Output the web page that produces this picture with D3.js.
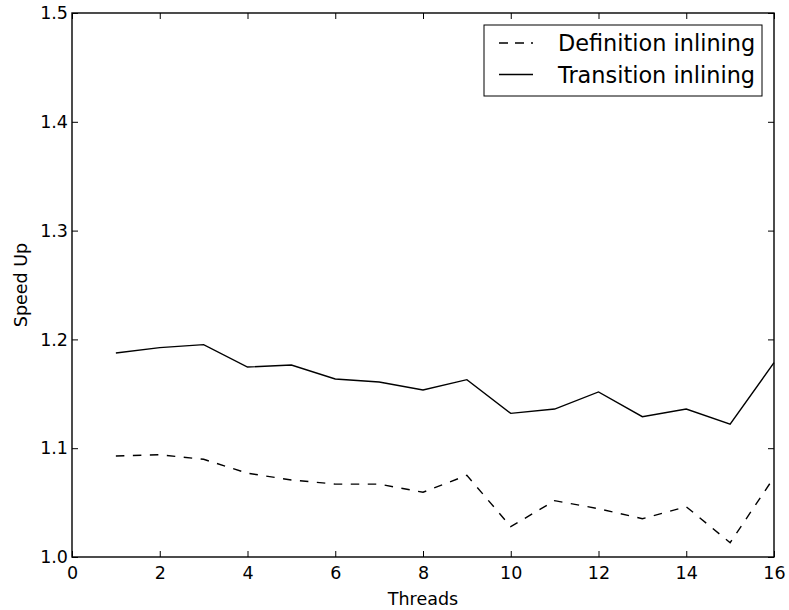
<!DOCTYPE html>
<html>
<head>
<meta charset="utf-8">
<script src="https://cdn.jsdelivr.net/npm/d3@7"></script>
<style>
  body { margin: 0; background: #fff; }
  svg { display: block; font-family: "DejaVu Sans", sans-serif; }
</style>
</head>
<body>
<svg id="chart" width="789" height="610"></svg>
<script>
// data
const threads = [1, 2, 3, 4, 5, 6, 7, 8, 9, 10, 11, 12, 13, 14, 15, 16]
const definitionInlining = [1.0928, 1.094, 1.0898, 1.077, 1.0708, 1.067, 1.067, 1.0595, 1.0751, 1.0279, 1.0518, 1.0444, 1.0352, 1.0462, 1.0131, 1.0732]
const transitionInlining = [1.1875, 1.1924, 1.1952, 1.1746, 1.1765, 1.1636, 1.1608, 1.1535, 1.163, 1.132, 1.136, 1.1517, 1.129, 1.136, 1.122, 1.1786]
const xTicks = [0, 2, 4, 6, 8, 10, 12, 14, 16]
const yTicks = [1.0, 1.1, 1.2, 1.3, 1.4, 1.5]
const seriesNames = ['Definition inlining', 'Transition inlining']

const svg = d3.select('#chart')
const plotLeft = 72, plotRight = 774, plotTop = 13, plotBottom = 557
const tickFont = '17.5px'

const xScale = d3.scaleLinear().domain([0, 16]).range([plotLeft, plotRight])
const yScale = d3.scaleLinear().domain([1.0, 1.5]).range([plotBottom, plotTop])

// axes, ticks pointing inward, mirrored on top/right
const xAxis = svg.append('g')
  .attr('transform', `translate(0, ${plotBottom})`)
  .call(d3.axisBottom(xScale).tickValues(xTicks).tickSize(-6).tickPadding(10).tickFormat(d3.format('d')))
const xAxisTop = svg.append('g')
  .attr('transform', `translate(0, ${plotTop})`)
  .call(d3.axisTop(xScale).tickValues(xTicks).tickSize(-6).tickFormat(''))
const yAxis = svg.append('g')
  .attr('transform', `translate(${plotLeft}, 0)`)
  .call(d3.axisLeft(yScale).tickValues(yTicks).tickSize(-6).tickPadding(4).tickFormat(d3.format('.1f')))
const yAxisRight = svg.append('g')
  .attr('transform', `translate(${plotRight}, 0)`)
  .call(d3.axisRight(yScale).tickValues(yTicks).tickSize(-6).tickFormat(''))

svg.selectAll('.domain').remove()
svg.selectAll('.tick line').attr('stroke', '#000').attr('stroke-width', 1)
svg.selectAll('.tick text')
  .style('font-size', tickFont)
  .style('font-family', '"DejaVu Sans", sans-serif')
  .attr('fill', '#000')

// frame
svg.append('rect')
  .attr('x', plotLeft).attr('y', plotTop)
  .attr('width', plotRight - plotLeft).attr('height', plotBottom - plotTop)
  .attr('fill', 'none').attr('stroke', '#000').attr('stroke-width', 1.4)

const line = d3.line()
  .x((d, i) => xScale(threads[i]))
  .y(d => yScale(d))

svg.append('path')
  .datum(definitionInlining)
  .attr('d', line)
  .attr('fill', 'none')
  .attr('stroke', '#000')
  .attr('stroke-width', 1.4)
  .attr('stroke-dasharray', '8.5 8.5')

svg.append('path')
  .datum(transitionInlining)
  .attr('d', line)
  .attr('fill', 'none')
  .attr('stroke', '#000')
  .attr('stroke-width', 1.4)

// axis labels
svg.append('text')
  .attr('x', (plotLeft + plotRight) / 2)
  .attr('y', 605)
  .attr('text-anchor', 'middle')
  .style('font-size', tickFont)
  .text('Threads')

svg.append('text')
  .attr('transform', 'rotate(-90)')
  .attr('x', -(plotTop + plotBottom) / 2)
  .attr('y', 27)
  .attr('text-anchor', 'middle')
  .style('font-size', tickFont)
  .text('Speed Up')

// legend
const legend = svg.append('g')
legend.append('rect')
  .attr('x', 484).attr('y', 25)
  .attr('width', 278).attr('height', 71)
  .attr('fill', '#fff').attr('stroke', '#000').attr('stroke-width', 1)

const rows = [43, 74.5]
seriesNames.forEach((name, i) => {
  legend.append('line')
    .attr('x1', 499).attr('x2', 533)
    .attr('y1', rows[i]).attr('y2', rows[i])
    .attr('stroke', '#000').attr('stroke-width', 1.4)
    .attr('stroke-dasharray', i === 0 ? '9 7' : null)
  legend.append('text')
    .attr('x', 558).attr('y', rows[i])
    .attr('dy', '0.36em')
    .style('font-size', '22.4px')
    .text(name)
})
</script>
</body>
</html>
